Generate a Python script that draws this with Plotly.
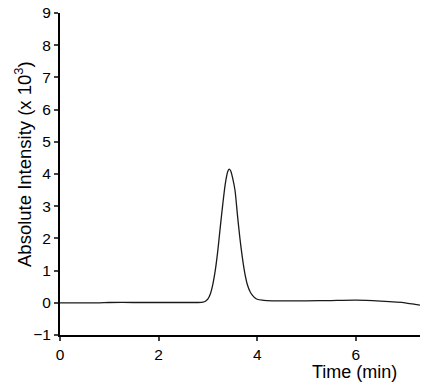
import plotly.graph_objects as go

time_min = [0.0, 0.5, 0.8, 1.0, 1.5, 2.0, 2.5, 2.8, 2.9, 2.95, 3.0, 3.05, 3.1, 3.15, 3.2, 3.25, 3.3,
            3.35, 3.4, 3.43, 3.46, 3.5, 3.55, 3.6, 3.65, 3.7, 3.75, 3.8, 3.85, 3.9, 3.95,
            4.0, 4.1, 4.2, 4.4, 5.0, 5.5, 6.0, 6.5, 7.0, 7.2, 7.3]
intensity = [0.0, 0.0, 0.0, 0.01, 0.01, 0.01, 0.01, 0.01, 0.02, 0.05, 0.12, 0.28, 0.58, 1.02, 1.62,
             2.35, 3.05, 3.68, 4.07, 4.15, 4.1, 3.88, 3.48, 2.7, 1.98, 1.38, 0.9, 0.56, 0.36, 0.24, 0.16,
             0.11, 0.08, 0.07, 0.06, 0.06, 0.07, 0.08, 0.05, 0.0, -0.05, -0.07]

x_ticks = [0, 2, 4, 6]
y_ticks = [-1, 0, 1, 2, 3, 4, 5, 6, 7, 8, 9]

x_title = "Time (min)"
y_title = "Absolute Intensity (x 10<sup>3</sup>)"

fig = go.Figure()
fig.add_trace(go.Scatter(x=time_min, y=intensity, mode="lines",
                         line=dict(color="#1a1a1a", width=1.3, shape="spline", smoothing=0.6),
                         showlegend=False, hoverinfo="skip"))

font_family = "Liberation Sans, Arial, sans-serif"
fig.update_layout(
    width=425, height=390,
    margin=dict(l=60, r=5, t=13, b=55),
    paper_bgcolor="white", plot_bgcolor="white",
    font=dict(family=font_family, size=15.5, color="black"),
    xaxis=dict(range=[0, 7.3], tickvals=x_ticks, ticks="outside", ticklen=4, tickwidth=1.5,
               showline=True, linecolor="black", linewidth=2, showgrid=False, zeroline=False,
               tickfont=dict(size=15.5), automargin=False, ticklabeloverflow="allow"),
    yaxis=dict(range=[-1, 9], tickvals=y_ticks, ticks="outside", ticklen=4, tickwidth=1.5,
               showline=True, linecolor="black", linewidth=2, showgrid=False, zeroline=False,
               tickfont=dict(size=15.5), automargin=False, ticklabeloverflow="allow"),
    annotations=[
        dict(text=x_title, xref="paper", yref="paper", x=(354 - 60) / 360, y=(335 - 372) / 322,
             xanchor="center", yanchor="middle", showarrow=False, font=dict(size=18)),
        dict(text=y_title, xref="paper", yref="paper", x=(23 - 60) / 360, y=(335 - 164) / 322,
             xanchor="center", yanchor="middle", textangle=-90, showarrow=False, font=dict(size=18.5)),
    ],
)

fig.write_html("out.html", config={"displayModeBar": False},
               post_script="document.body.style.margin='0';")
